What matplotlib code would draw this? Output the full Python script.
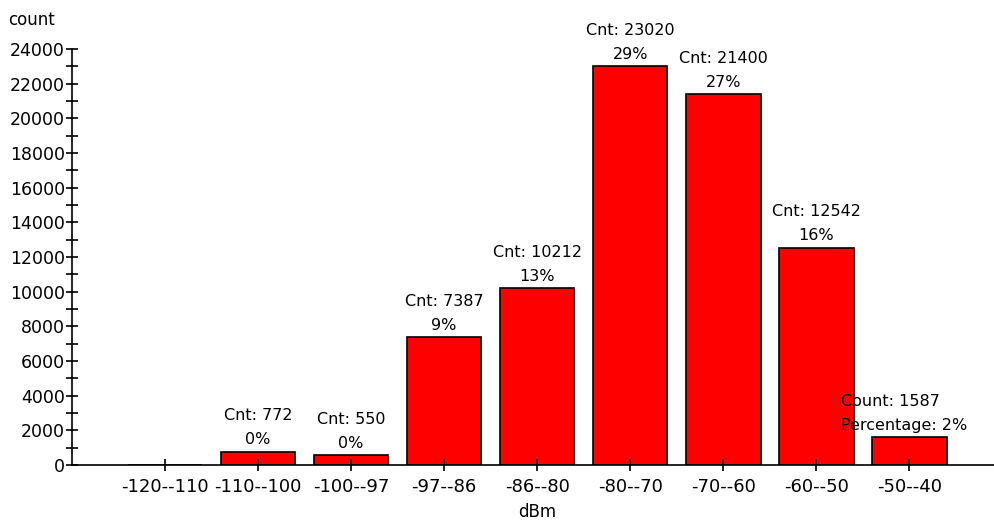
import matplotlib
matplotlib.use("Agg")
import matplotlib.pyplot as plt
import numpy as np

categories = ["-120--110", "-110--100", "-100--97", "-97--86", "-86--80",
              "-80--70", "-70--60", "-60--50", "-50--40"]
counts = [0, 772, 550, 7387, 10212, 23020, 21400, 12542, 1587]
percents = [0, 0, 0, 9, 13, 29, 27, 16, 2]

plt.rcParams['font.family'] = ['DejaVu Sans']
fig = plt.figure(figsize=(9.95, 5.22), dpi=100)
ax = fig.add_axes([72 / 995, 57 / 522, (995 - 72) / 995, (465 - 49) / 522])

x = np.arange(1, len(categories) + 1)
ax.bar(x, counts, width=0.8, color="#ff0000", edgecolor="black", linewidth=1.2)

for xi, c, p in zip(x, counts, percents):
    if c == 0:
        continue
    if xi == len(categories):
        ax.annotate(f"Count: {c}\nPercentage: {p}%", (xi - 0.74, c),
                    xytext=(0, 3), textcoords="offset points", ha="left",
                    va="bottom", fontsize=11.5, linespacing=1.8)
    else:
        ax.annotate(f"Cnt: {c}\n{p}%", (xi, c), xytext=(0, 3),
                    textcoords="offset points", ha="center", va="bottom",
                    fontsize=11.5, linespacing=1.75)

ax.set_xlim(0, 9.92)
ax.set_ylim(0, 24000)
ax.set_xticks(x)
ax.set_xticklabels(categories, fontsize=13)
ax.set_yticks(np.arange(0, 24001, 2000))
ax.set_yticks(np.arange(1000, 24000, 2000), minor=True)
ax.tick_params(axis="y", labelsize=12.5, direction="inout", length=8, width=1.2, pad=1)
ax.tick_params(axis="y", which="minor", direction="inout", length=8, width=1.2)
ax.tick_params(axis="x", direction="inout", length=8, width=1.2, pad=5)

for s in ["top", "right"]:
    ax.spines[s].set_visible(False)
ax.spines["left"].set_linewidth(1.2)
ax.spines["bottom"].set_linewidth(1.2)

fig.text(8 / 995, 1 - 20 / 522, "count", fontsize=12, va="center")
fig.text(537 / 995, 1 - 512 / 522, "dBm", fontsize=12, ha="center", va="center")

fig.savefig("out.png", dpi=100)
